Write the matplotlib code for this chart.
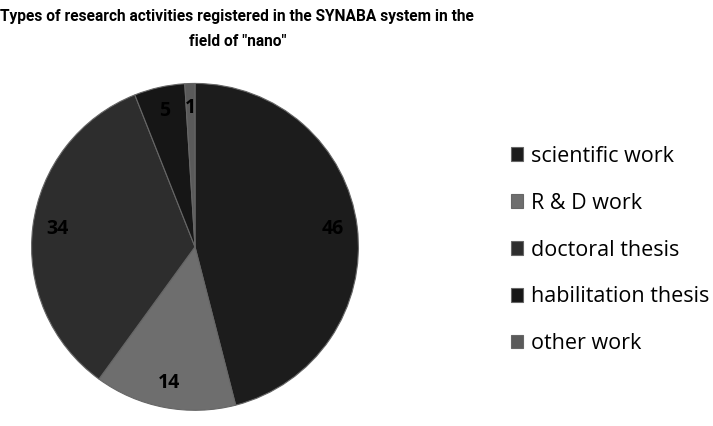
import matplotlib.pyplot as plt

categories = ["scientific work", "R & D work", "doctoral thesis",
              "habilitation thesis", "other work"]
values = [46, 14, 34, 5, 1]
colors = ["#1c1c1c", "#6e6e6e", "#2d2d2d", "#161616", "#5a5a5a"]

plt.rcParams["font.family"] = ["Open Sans", "DejaVu Sans"]

fig = plt.figure(figsize=(7.13, 4.26), dpi=100)
ax = fig.add_axes([0.042, 0.033, 0.463, 0.775])

wedges, texts = ax.pie(
    values, colors=colors, startangle=90, counterclock=False,
    labels=[str(v) for v in values], labeldistance=0.85,
    wedgeprops=dict(edgecolor="#666666", linewidth=0.8),
    textprops=dict(fontsize=14, fontweight="bold", color="black",
                   ha="center", va="center"),
)
ax.set_xlim(-1.01, 1.01)
ax.set_ylim(-1.01, 1.01)
ax.set_aspect("equal")

fig.text(0.333, 0.98, 'Types of research activities registered in the SYNABA system in the\nfield of "nano"',
         ha="center", va="top", fontsize=11.2, fontweight="bold",
         linespacing=1.85, family=["DejaVu Sans Condensed", "Roboto"])

fig.legend(wedges, categories, loc="center left",
           bbox_to_anchor=(0.716, 0.413), frameon=False, fontsize=15.5,
           handlelength=0.6, handleheight=0.6, handletextpad=0.35,
           labelspacing=1.2, borderaxespad=0, borderpad=0)

fig.savefig("out.png", dpi=100)
